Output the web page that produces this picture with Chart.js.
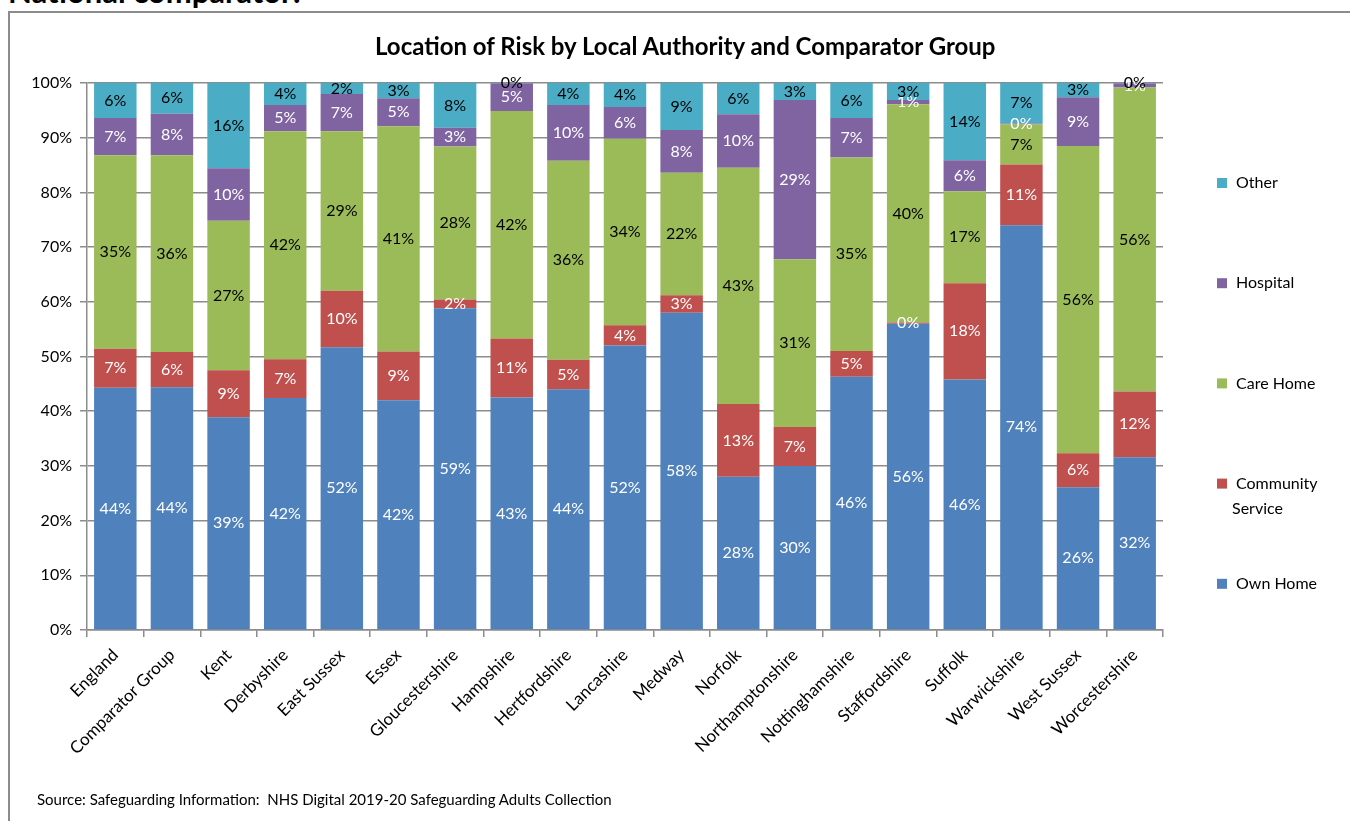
<!DOCTYPE html>
<html>
<head>
<meta charset="utf-8">
<title>Location of Risk by Local Authority and Comparator Group</title>
<script src="https://cdn.jsdelivr.net/npm/chart.js@4"></script>
<style>
  html, body { margin: 0; padding: 0; background: #fff; overflow: hidden; }
  #page { position: relative; width: 1350px; height: 821px; overflow: hidden; }
  #heading { position: absolute; left: 8px; top: -24px; font: bold 31px Lato; line-height: 31px; color: #000; }
  #frame { position: absolute; left: 8px; top: 11px; width: 1400px; height: 900px;
           border-left: 2px solid #8c8c8c; border-top: 2px solid #8c8c8c; }
  #title { position: absolute; left: 375px; width: 600px; top: 32px; text-align: center;
           font: bold 24px Lato; line-height: 28px; color: #000; white-space: nowrap; }
  #source { position: absolute; left: 37px; top: 792px; font: 15px Lato; line-height: 15px; color: #000; }
  canvas { position: absolute; left: 0; top: 0; }
</style>
</head>
<body>
<div id="page">
  <div id="heading">National comparator:</div>
  <div id="frame"></div>
  <canvas id="riskChart" width="1350" height="821"></canvas>
  <div id="title">Location of Risk by Local Authority and Comparator Group</div>
  <div id="source">Source: Safeguarding Information:&nbsp; NHS Digital 2019-20 Safeguarding Adults Collection</div>
</div>
<script>
// Local authorities along the x axis
const categories = [
    'England', 'Comparator Group', 'Kent', 'Derbyshire', 'East Sussex', 'Essex',
    'Gloucestershire', 'Hampshire', 'Hertfordshire', 'Lancashire', 'Medway', 'Norfolk',
    'Northamptonshire', 'Nottinghamshire', 'Staffordshire', 'Suffolk', 'Warwickshire',
    'West Sussex', 'Worcestershire'
];

// Share of risk by location, % of each authority's total
const ownHome          = [44.3, 44.4, 38.9, 42.4, 51.7, 42.0, 58.8, 42.5, 44.0, 52.0, 58.0, 28.0, 30.0, 46.3, 56.0, 45.8, 74.0, 26.1, 31.6];
const communityService = [ 7.1,  6.4,  8.6,  7.1, 10.3,  8.9,  1.6, 10.8,  5.4,  3.7,  3.2, 13.3,  7.1,  4.7,  0.2, 17.6, 11.1,  6.2, 12.0];
const careHome         = [35.4, 36.0, 27.3, 41.7, 29.2, 41.2, 28.0, 41.6, 36.4, 34.1, 22.4, 43.2, 30.7, 35.4, 39.9, 16.8,  7.3, 56.2, 55.6];
const hospital         = [ 6.8,  7.6,  9.6,  4.8,  6.8,  5.1,  3.4,  5.0, 10.2,  5.8,  7.8,  9.8, 29.1,  7.2,  0.8,  5.7,  0.2,  8.9,  0.7];
const other            = [ 6.4,  5.6, 15.6,  4.0,  2.0,  2.8,  8.2,  0.1,  4.0,  4.4,  8.6,  5.7,  3.1,  6.4,  3.1, 14.1,  7.4,  2.6,  0.1];

// Y axis ticks
const yTicks = [0, 10, 20, 30, 40, 50, 60, 70, 80, 90, 100];

const gridGrey = '#8c8c8c';

const series = [
    { label: 'Own Home',          data: ownHome,          colour: '#4f81bd', text: '#ffffff' },
    { label: 'Community Service', data: communityService, colour: '#c0504d', text: '#ffffff' },
    { label: 'Care Home',         data: careHome,         colour: '#9bbb59', text: '#000000' },
    { label: 'Hospital',          data: hospital,         colour: '#8064a2', text: '#ffffff' },
    { label: 'Other',             data: other,            colour: '#4bacc6', text: '#000000' }
];

// Percentage written in the middle of every stacked segment
const segmentLabels = {
    id: 'segmentLabels',
    afterDatasetsDraw(chart) {
        const ctx = chart.ctx;
        ctx.save();
        ctx.font = '16px Lato';
        ctx.textAlign = 'center';
        ctx.textBaseline = 'middle';
        chart.data.datasets.forEach((ds, i) => {
            const meta = chart.getDatasetMeta(i);
            ctx.fillStyle = series[i].text;
            meta.data.forEach((bar, j) => {
                const { x, y, base } = bar.getProps(['x', 'y', 'base'], true);
                ctx.fillText(Math.round(ds.data[j]) + '%', x, (y + base) / 2);
            });
        });
        ctx.restore();
    }
};

// Legend on the right, top series first, long names wrapped onto two lines
const sideLegend = {
    id: 'sideLegend',
    afterDraw(chart) {
        const ctx = chart.ctx;
        const left = chart.chartArea.right + 54;
        let y = 183;
        ctx.save();
        ctx.font = '16px Lato';
        ctx.textBaseline = 'middle';
        ctx.textAlign = 'left';
        for (let i = chart.data.datasets.length - 1; i >= 0; i--) {
            const ds = chart.data.datasets[i];
            ctx.fillStyle = ds.backgroundColor;
            ctx.fillRect(left, y - 5, 10, 10);
            ctx.fillStyle = '#000';
            const words = ds.label.split(' ');
            if (ctx.measureText(ds.label).width > 95 && words.length > 1) {
                ctx.fillText(words[0], left + 19, y);
                ctx.fillText(words.slice(1).join(' '), left + 15, y + 25);
            } else {
                ctx.fillText(ds.label, left + 19, y);
            }
            y += 100.2;
        }
        ctx.restore();
    }
};

Chart.defaults.font.family = 'Lato';
Chart.defaults.font.size = 16;
Chart.defaults.color = '#000';

new Chart(document.getElementById('riskChart').getContext('2d'), {
    type: 'bar',
    data: {
        labels: categories,
        datasets: series.map(s => ({
            label: s.label,
            data: s.data,
            backgroundColor: s.colour,
            borderWidth: 0,
            categoryPercentage: 1,
            barPercentage: 0.75
        }))
    },
    options: {
        responsive: false,
        devicePixelRatio: 1,
        animation: false,
        layout: { padding: { left: 10, right: 187, top: 83, bottom: 41 } },
        plugins: {
            legend: { display: false },
            tooltip: { enabled: false },
            title: { display: false }
        },
        scales: {
            x: {
                stacked: true,
                offset: true,
                grid: { display: true, drawOnChartArea: false, offset: true, tickLength: 7, color: gridGrey, lineWidth: 1.5 },
                border: { color: gridGrey, width: 1.5 },
                ticks: { minRotation: 45, maxRotation: 45, autoSkip: false, padding: 8, font: { size: 17 } },
                afterFit(scale) { scale.height = 150; }
            },
            y: {
                stacked: true,
                min: 0,
                max: 100,
                afterBuildTicks(scale) { scale.ticks = yTicks.map(v => ({ value: v })); },
                grid: { color: gridGrey, lineWidth: 1.5, tickLength: 7 },
                border: { color: gridGrey, width: 1.5 },
                ticks: { padding: 8, callback: v => v + '%' },
                afterFit(scale) { scale.width = 77; }
            }
        }
    },
    plugins: [segmentLabels, sideLegend]
});
</script>
</body>
</html>
